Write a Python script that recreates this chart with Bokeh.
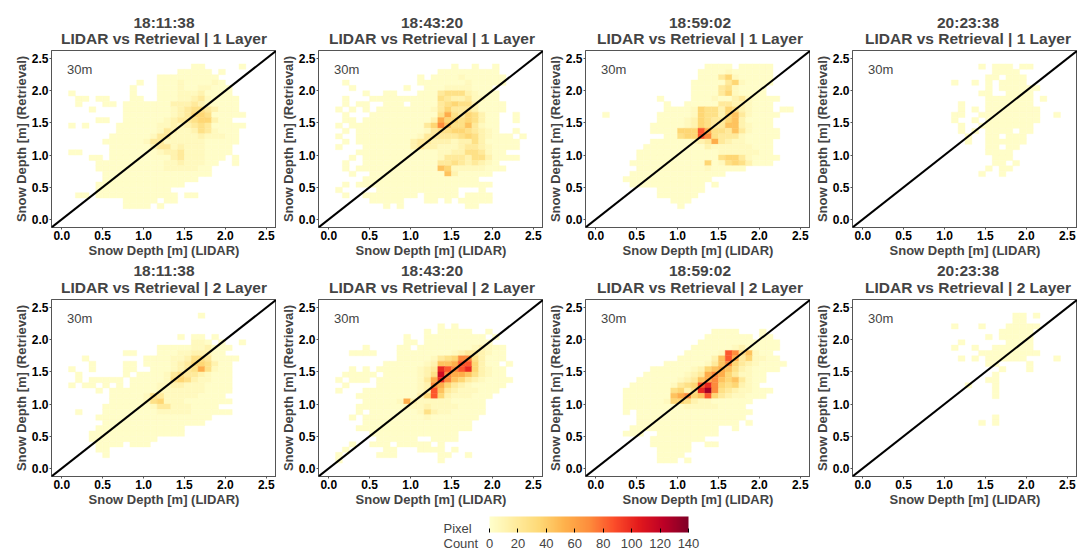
import numpy as np
from bokeh.plotting import figure
from bokeh.models import (ColumnDataSource, LinearColorMapper, ColorBar, FixedTicker,
                          Slope, Label, Range1d, NumeralTickFormatter)
from bokeh.layouts import column, row
from bokeh.transform import transform
from bokeh.embed import file_html
from bokeh.resources import INLINE

FONT = "Liberation Sans"

# ---------------- data ----------------
TIMES = ["18:11:38", "18:43:20", "18:59:02", "20:23:38"]
LAYER_TITLES = ["LIDAR vs Retrieval | 1 Layer", "LIDAR vs Retrieval | 2 Layer"]
X_LABEL = "Snow Depth [m] (LIDAR)"
Y_LABEL = "Snow Depth [m] (Retrieval)"
RES_LABEL = "30m"
AXIS_TICKS = [0.0, 0.5, 1.0, 1.5, 2.0, 2.5]
CB_TICKS = [0, 20, 40, 60, 80, 100, 120, 140]
CB_LOW, CB_HIGH = 0, 140
BIN_WIDTH = 2.5 / 30          # 30 bins over 0-2.5 m
N_BINS = 30
LEVEL_COUNTS = {"1": 2, "2": 6, "3": 12, "4": 20, "5": 28, "6": 36, "7": 45,
                "8": 55, "9": 70, "A": 85, "B": 100, "C": 115, "D": 130}

# grids: first string = top bin row (29), going down; column = x bin
H_1L_181138 = [
    "..............................",
    "...................11.....1...",
    ".................11111.1......",
    "..............111111111.......",
    "...........1..1112111121......",
    "..........1...11121122111.....",
    ".1........1...11122231111.....",
    "..11.11...11..111223421111....",
    "..1...11.11111113334321111....",
    "....1....11111112345543111....",
    ".........111111123466511111...",
    ".....11..1111112344566311.....",
    ".1.1....1111112232345411111...",
    "........111111243223542111....",
    ".......1111112442222322211....",
    "......11111124422222211111....",
    ".......111111344232221111.....",
    ".11....111111123342221111.....",
    "....11.11111111134222111.1....",
    ".....111111111122322211..1....",
    ".....11111111112222211........",
    "......1111111111111111........",
    "......11111111111111..........",
    ".....1111111111111............",
    ".....11111111111..............",
    "..11.111111111111.11..........",
    ".........11111.11.............",
    ".........1111.1...............",
]
H_1L_184320 = [
    "..............................",
    "..................1..1..1.....",
    "................111111111.....",
    ".............1.11112111111....",
    "..1..........1111111211111....",
    "...1.......1..1112222111......",
    ".....1..11...111455532111.....",
    "..1...1111111111543342211.....",
    "..1.11..111.11114565531111....",
    ".1.1.1.1111111124644431111....",
    "..1...1111111111585465311..1..",
    "..11.11111111113866565311..1..",
    ".1.1111111111146975574211.....",
    "..1.111111111124556654321..1..",
    ".1..11111111124444456532111.1.",
    "..1.111111113443332335311111..",
    ".1...11111113433222344321111..",
    "....1111111111112233554211....",
    "...1.11111111111244435531111..",
    "..1..11111111111445434321.....",
    "..1.1111111111117622222111....",
    "...1..111111111117311111......",
    ".....11111111111111111........",
    "..1.11111111111111111111......",
    ".1.....111111111111...1.......",
    "..1..11111111.11111.1111......",
    "......11111...11.1.11111......",
    "........1.1.........11........",
]
H_1L_185902 = [
    "..............................",
    "................1111.11111....",
    "...............11112111111....",
    "...............11146211111....",
    "..............111114621111....",
    "..............11114521111.....",
    "..............11114621111.....",
    ".........1....1112113421111...",
    "..........1..1111144332111....",
    "..........1111265536532111.11.",
    ".1.......111112655367421111...",
    ".........11112365446731111....",
    "........111112365447732111....",
    "........1111666A85547421111...",
    "..........11566A95444211111...",
    "........111111234843221111....",
    ".......1111111113222222111....",
    "......11111111111122222211....",
    "......111111111111566421111...",
    ".....111111111116125653111....",
    "......1111111111211111........",
    ".....11111111111111...........",
    "....1111111111111.............",
    ".....11111111111.1............",
    ".........1111111..............",
    ".........111111...............",
    "...........111................",
    "............1.................",
]
H_1L_202338 = [
    "..............................",
    ".................1.111.11.....",
    "...................1111.......",
    "..................11.111......",
    ".............1..1.1.1111......",
    "..................1.111111....",
    ".................11..1111.....",
    "..................1111111.1...",
    "..............1...1111111.....",
    "..............1.1.11111111....",
    ".............11..111111111..1.",
    ".............1..1.11111111....",
    "..............1..11111111.....",
    "..............1.1.1111.11.....",
    "...............1..11.111......",
    "...............1..111111......",
    "..................11.11.......",
    "..................1111........",
    "...................111........",
    "...................11.1.......",
    "..................1.11........",
    ".................1..1.........",
]
H_2L_181138 = [
    "..............................",
    "....................1.........",
    "..............................",
    "..............................",
    "..............................",
    ".................1.11.1.......",
    "...................221.1..1...",
    "..............11111223111.....",
    ".........11...1112233311......",
    "...1........11112235541111....",
    "....1....11.1111234665311.....",
    ".1..1....11..111234585211.....",
    "..1......1.11112454432111.....",
    "..1.11111.111112565322111.....",
    ".1.11.1.1.111122332221111.....",
    ".....1.111111122222221111.....",
    ".......11111254222221111......",
    ".......111112562221111111.....",
    "......11111112442221111.......",
    "..1...1111111122222111111.....",
    ".....11111111111111111........",
    "......111111111111111.........",
    ".....1111111111111............",
    "....11111111111111............",
    "....1111111111................",
    ".....1111.111.................",
    ".....11.......................",
    "......1.......................",
]
H_2L_184320 = [
    "..............................",
    "..............................",
    "..............................",
    "................1.1...........",
    "..............1.11111..1......",
    "...........1..111111111.1.....",
    "...........11.1111111111......",
    ".....1....11.1111111123211....",
    "...1111...1111111123443211....",
    "..........1111124569953111....",
    "........11111123778AA6311.1...",
    "...1.1.111111234BA9AB63211....",
    "..11111.11111235C988753211....",
    ".1.111.111111248B9764321111...",
    "..1....1111112398643211111....",
    ".1...1111111123A743222111.....",
    "....11111111136A63222111......",
    ".....111112832222211111.......",
    "....1111111222322221111.......",
    "....1.11111112532211111.......",
    "...1.11111111121111111........",
    ".....1111111111111111.........",
    "....11111111111111111.........",
    "......1111111111111...........",
    ".......111111..1111...........",
    "...1..111.11111.1.............",
    "..1.....11...1111.1...........",
    ".1.....111......11..1.........",
    ".1..............1.............",
]
H_2L_185902 = [
    "..............................",
    "..............................",
    "..............................",
    "..............................",
    ".................1111...1.....",
    "................1111111.11....",
    "...............111111111111...",
    "..............1111112311111...",
    ".............111112A957211....",
    "............1111137A8462211...",
    "..........111111247964321111..",
    "........1111112367875321111...",
    ".......111111234898642211.....",
    "......1111112347897674211.....",
    ".....1111112456AB9656321......",
    "....11111115635BD954322111....",
    "....111111178967A64322111.....",
    "....1111112665322111111.......",
    "....111111111222221111........",
    "....1.11111111111111111.......",
    "......1111111111111111........",
    "......111111111111111.1.......",
    ".....1111111111111..1.........",
    "....111..111111111............",
    "........11111111..............",
    "........111111..11............",
    ".........11111................",
    ".........1111.................",
    ".........111.1................",
]
H_2L_202338 = [
    "..............................",
    "......................11.1....",
    "......................11......",
    ".............1...1...11111....",
    "....................11111.....",
    "..................1.11111.....",
    "..............1......1111.....",
    ".............1..1..111111.....",
    ".................111111111....",
    "..............1.1.111111....1.",
    "..................11....1.....",
    "....................1...1.....",
    "...................1..........",
    "..................11..........",
    "...............1...1..........",
    "...................1..........",
    "...................1..........",
    "..............................",
    "..............................",
    "..............................",
    "...................1..........",
    ".................1.1..........",
]
GRIDS = [[H_1L_181138, H_1L_184320, H_1L_185902, H_1L_202338],
         [H_2L_181138, H_2L_184320, H_2L_185902, H_2L_202338]]

YLORRD = ["#ffffcc", "#ffeda0", "#fed976", "#feb24c", "#fd8d3c",
          "#fc4e2a", "#e31a1c", "#bd0026", "#800026"]

PAGE_W = 1083
X0, X1 = -0.125, 2.625
FRAME_W, FRAME_H = 225, 177
FRAME_LEFT = [51, 319, 587, 855]          # px of each frame's left edge on the page
TITLE_H = [49, 36]                         # heading strip height per row
TITLE_BASE = [(27.5, 11.2), (28.5, 10.8)]  # label anchors (time, layer) above strip bottom


def interp_colors(colors, n):
    rgb = np.array([[int(c[k:k + 2], 16) for k in (1, 3, 5)] for c in colors], float)
    out = []
    for v in np.linspace(0, len(colors) - 1, n):
        a = int(np.floor(v))
        b = min(a + 1, len(colors) - 1)
        f = v - a
        c = rgb[a] * (1 - f) + rgb[b] * f
        out.append("#%02x%02x%02x" % tuple(int(round(x)) for x in c))
    return out


PALETTE = interp_colors(YLORRD, 256)
mapper = LinearColorMapper(palette=PALETTE, low=CB_LOW, high=CB_HIGH)


def decode(rows):
    xs, ys, cs = [], [], []
    for r, line in enumerate(rows):
        j = N_BINS - 1 - r
        for i, ch in enumerate(line[:N_BINS]):
            if ch in LEVEL_COUNTS:
                xs.append((i + 0.5) * BIN_WIDTH)
                ys.append((j + 0.5) * BIN_WIDTH)
                cs.append(LEVEL_COUNTS[ch])
    return dict(x=xs, y=ys, count=cs)


def make_heading(rowi):
    h = TITLE_H[rowi]
    t = figure(width=PAGE_W, height=h, x_range=Range1d(0, PAGE_W), y_range=Range1d(0, h),
               output_backend="svg", toolbar_location=None, min_border=0, title=None,
               x_axis_location=None, y_axis_location=None, outline_line_color=None)
    t.grid.visible = False
    yb_time, yb_layer = TITLE_BASE[rowi]
    for ci in range(4):
        xc = FRAME_LEFT[ci] + FRAME_W / 2
        t.add_layout(Label(x=xc, y=yb_time, text=TIMES[ci], text_font=FONT,
                           text_font_size="15.5px", text_font_style="bold",
                           text_align="center", text_baseline="alphabetic"))
        t.add_layout(Label(x=xc, y=yb_layer, text=LAYER_TITLES[rowi], text_font=FONT,
                           text_font_size="15.5px", text_font_style="bold",
                           text_align="center", text_baseline="alphabetic"))
    return t


def make_panel(rows, col):
    p = figure(frame_width=FRAME_W, frame_height=FRAME_H, title=None,
               x_range=Range1d(X0, X1), y_range=Range1d(X0, X1),
               output_backend="svg", toolbar_location=None,
               min_border_left=51 if col == 0 else 42, min_border_right=0,
               min_border_top=1, min_border_bottom=35,
               outline_line_color="#555555", background_fill_color="white")
    src = ColumnDataSource(decode(rows))
    p.rect(x="x", y="y", width=BIN_WIDTH, height=BIN_WIDTH, source=src,
           fill_color=transform("count", mapper), line_color=transform("count", mapper),
           line_width=0.4)
    p.add_layout(Slope(gradient=1, y_intercept=0, line_color="black", line_width=2))
    p.add_layout(Label(x=0.065, y=2.33, text=RES_LABEL, text_font=FONT,
                       text_font_size="13px", text_baseline="middle", text_align="left"))
    p.grid.visible = False
    for ax, lab in ((p.xaxis, X_LABEL), (p.yaxis, Y_LABEL)):
        ax.ticker = FixedTicker(ticks=AXIS_TICKS)
        ax.formatter = NumeralTickFormatter(format="0.0")
        ax.axis_label = lab
        ax.axis_label_text_font = FONT
        ax.axis_label_text_font_size = "13px"
        ax.axis_label_text_font_style = "bold"
        ax.axis_label_standoff = 0
        ax.major_label_text_font = FONT
        ax.major_label_text_font_size = "12px"
        ax.major_label_text_font_style = "bold"
        ax.major_label_text_color = "black"
        ax.major_label_standoff = 1
        ax.major_tick_out = 2
        ax.major_tick_in = 0
        ax.minor_tick_line_color = None
        ax.major_tick_line_color = "#555555"
        ax.axis_line_color = "#555555"
    return p


parts = []
for ri in range(2):
    parts.append(make_heading(ri))
    parts.append(row(*[make_panel(GRIDS[ri][ci], ci) for ci in range(4)]))

CB_FIG_H = 42
cbf = figure(width=PAGE_W, height=CB_FIG_H, x_range=Range1d(0, PAGE_W), y_range=Range1d(0, CB_FIG_H),
             output_backend="svg", toolbar_location=None, min_border=0, title=None,
             x_axis_location=None, y_axis_location=None, outline_line_color=None)
cbf.grid.visible = False
cb = ColorBar(color_mapper=mapper, orientation="horizontal", width=199, height=16,
              location=(489, 3), padding=0, ticker=FixedTicker(ticks=CB_TICKS),
              major_label_text_font=FONT, major_label_text_font_size="13px",
              label_standoff=6, major_tick_in=4, major_tick_out=0,
              major_tick_line_color="black", bar_line_color=None,
              border_line_color=None, background_fill_alpha=0)
cbf.add_layout(cb, "center")
cbf.add_layout(Label(x=443, y=25.2, text="Pixel", text_font=FONT, text_font_size="13px",
                     text_baseline="alphabetic"))
cbf.add_layout(Label(x=443, y=10.2, text="Count", text_font=FONT, text_font_size="13px",
                     text_baseline="alphabetic"))
parts.append(cbf)

layout = column(*parts)
open("out.html", "w").write(file_html(layout, INLINE))
